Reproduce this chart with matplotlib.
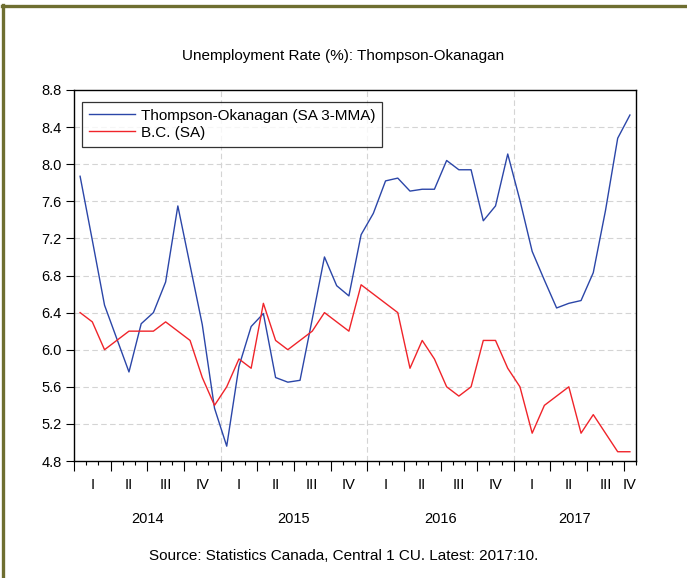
import matplotlib
matplotlib.use('Agg')
import matplotlib.pyplot as plt
import matplotlib.transforms as mtransforms
from matplotlib.lines import Line2D
import numpy as np

plt.rcParams['font.family'] = ['Liberation Sans', 'DejaVu Sans']

# Monthly data, Jan 2014 .. Oct 2017
thompson = [7.87, 7.18, 6.48, 6.12, 5.76, 6.28, 6.40, 6.73, 7.55, 6.91, 6.27, 5.37,
            4.96, 5.82, 6.25, 6.39, 5.70, 5.65, 5.67, 6.33, 7.00, 6.69, 6.58, 7.24,
            7.47, 7.82, 7.85, 7.71, 7.73, 7.73, 8.04, 7.94, 7.94, 7.39, 7.55, 8.11,
            7.61, 7.06, 6.75, 6.45, 6.50, 6.53, 6.83, 7.50, 8.28, 8.53]
bc = [6.4, 6.3, 6.0, 6.1, 6.2, 6.2, 6.2, 6.3, 6.2, 6.1, 5.7, 5.4,
      5.6, 5.9, 5.8, 6.5, 6.1, 6.0, 6.1, 6.2, 6.4, 6.3, 6.2, 6.7,
      6.6, 6.5, 6.4, 5.8, 6.1, 5.9, 5.6, 5.5, 5.6, 6.1, 6.1, 5.8,
      5.6, 5.1, 5.4, 5.5, 5.6, 5.1, 5.3, 5.1, 4.9, 4.9]
years = ['2014', '2015', '2016', '2017']
quarters = ['I', 'II', 'III', 'IV']
y_ticks = [4.8, 5.2, 5.6, 6.0, 6.4, 6.8, 7.2, 7.6, 8.0, 8.4, 8.8]

n = len(thompson)
x = np.arange(n)

fig = plt.figure(figsize=(6.87, 5.78), dpi=100)
ax = fig.add_axes([0.1077, 0.2024, 0.8181, 0.6419])

ax.plot(x, thompson, color='#2b46a8', lw=1.0, label='Thompson-Okanagan (SA 3-MMA)')
ax.plot(x, bc, color='#f0242a', lw=1.0, label='B.C. (SA)')

ax.set_xlim(-0.5, n - 0.5)
ax.set_ylim(4.8, 8.8)
ax.set_yticks(y_ticks)
ax.set_yticklabels([f'{v:.1f}' for v in y_ticks])
ax.tick_params(axis='y', direction='out', length=6, width=0.8, labelsize=10.5, pad=3)

# month ticks (minor) and quarter ticks (major)
ax.set_xticks(np.arange(-0.5, n, 3))
ax.set_xticks(np.arange(-0.5, n, 1), minor=True)
ax.set_xticklabels([])
ax.tick_params(axis='x', which='major', direction='out', length=7, width=0.8)
ax.tick_params(axis='x', which='minor', direction='out', length=3, width=0.8)

for v in y_ticks[1:-1]:
    ax.axhline(v, color='#d4d4d4', lw=0.8, ls=(0, (5, 3)), zorder=0)
for yb in range(1, len(years)):
    ax.axvline(12 * yb - 0.5, color='#d4d4d4', lw=0.8, ls=(0, (5, 3)), zorder=0)

for s in ax.spines.values():
    s.set_linewidth(1.0)

# quarter and year labels
trans = mtransforms.blended_transform_factory(ax.transData, fig.transFigure)
for q in range((n + 2) // 3):
    start = 3 * q
    end = min(3 * q + 2, n - 1)
    ax.text((start + end) / 2, 1 - 485 / 578, quarters[q % 4], transform=trans,
            ha='center', va='center', fontsize=10.5)
for i, yr in enumerate(years):
    start = 12 * i
    end = min(12 * i + 11, n - 1)
    ax.text((start + end) / 2, 1 - 519 / 578, yr, transform=trans,
            ha='center', va='center', fontsize=10.5)

leg = ax.legend(loc='upper left', bbox_to_anchor=(0.014, 0.968), fontsize=11,
                frameon=True, fancybox=False, borderpad=0.45, handlelength=3.0,
                handletextpad=0.4, labelspacing=0.2, borderaxespad=0)
leg.get_frame().set_edgecolor('black')
leg.get_frame().set_linewidth(0.9)

fig.text(0.5, 1 - 56 / 578, 'Unemployment Rate (%): Thompson-Okanagan',
         ha='center', va='center', fontsize=11)
fig.text(0.5, 1 - 556 / 578, 'Source: Statistics Canada, Central 1 CU. Latest: 2017:10.',
         ha='center', va='center', fontsize=11)

# olive frame on left and top
fig.add_artist(Line2D([3.3 / 687, 3.3 / 687], [0, 1 - 5 / 578], transform=fig.transFigure,
                      color='#6e6e30', lw=2.4))
fig.add_artist(Line2D([2 / 687, 1], [1 - 6.2 / 578, 1 - 6.2 / 578], transform=fig.transFigure,
                      color='#6e6e30', lw=2.4))

fig.savefig('out.png', dpi=100)
